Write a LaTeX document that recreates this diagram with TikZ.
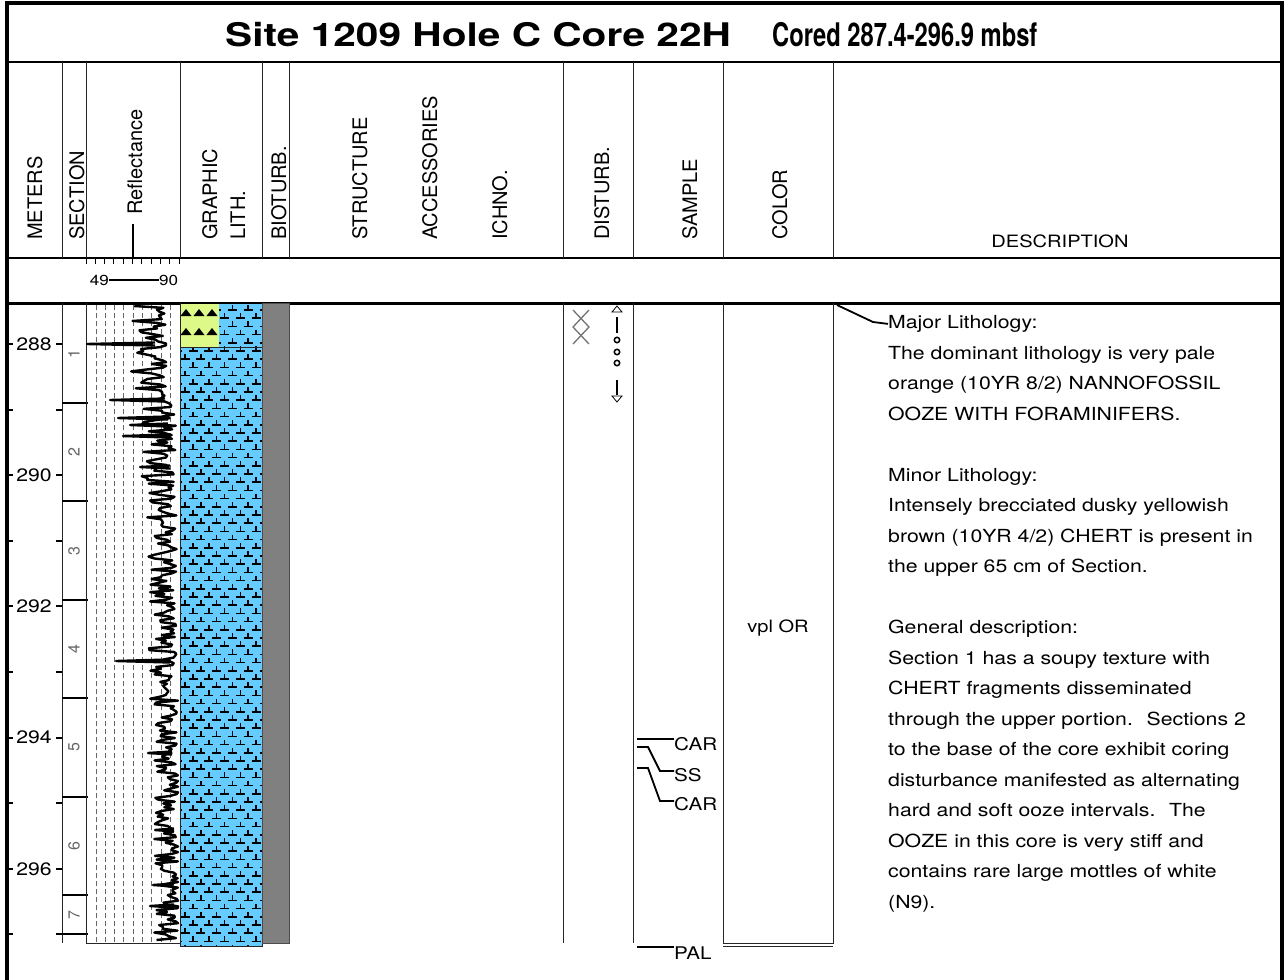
\documentclass[tikz,border=0pt]{standalone}
\usepackage{fontspec}
\setmainfont{TeX Gyre Heros}
\newfontfamily\widefont[FakeStretch=1.18]{TeX Gyre Heros}
\newfontfamily\titlefont[FakeStretch=1.25]{TeX Gyre Heros}
\newfontfamily\narrowfont[FakeStretch=0.73]{TeX Gyre Heros}
\definecolor{oozeblue}{RGB}{102,204,255}
\definecolor{chertgreen}{RGB}{221,250,136}
\definecolor{bioturbgray}{RGB}{128,128,128}
\tikzset{
  boxframe/.style={line width=4pt},
  colline/.style={line width=1pt, black!85},
  hdlabel/.style={rotate=90, anchor=base west, inner sep=0pt, font=\fontsize{20}{20}\selectfont},
  secnum/.style={rotate=90, inner sep=0pt, text=black!60, font=\fontsize{16}{16}\selectfont},
  depthlbl/.style={anchor=east, inner sep=0pt, font=\widefont\fontsize{18}{18}\selectfont},
  tickmark/.style={line width=2pt},
  refl/.style={line width=2.4pt, line join=round},
  oozemark/.style={line width=1.7pt},
  smp/.style={anchor=north west, inner sep=0pt, font=\widefont\fontsize{17.5}{17.5}\selectfont},
  leader/.style={line width=1.8pt},
  desc/.style={anchor=base west, inner sep=0pt, font=\widefont\fontsize{18}{18}\selectfont},
}
\begin{document}
\begin{tikzpicture}[x=1pt, y=-1pt,
  declare function={rr(\t)=163+10*(\t>400)+3*(\t>700); sp(\t)=24+6*(\t<500)+4*(\t<700);}]
   \useasboundingbox (0,0) rectangle (1286,980);
   \pgfmathsetseed{1209}
   % frame and header rows
   \draw[boxframe] (7,1000) -- (7,3) -- (1282,3) -- (1282,1000);
   \draw[line width=1.2pt] (7,62) -- (1282,62);
   \draw[line width=2.5pt] (7,258) -- (1282,258);
   \draw[line width=3pt] (7,303) -- (1282,303);
   \foreach \x in {62,86,180,262,289,563,633,723,833}
     \draw[colline] (\x,62) -- (\x,258);
   \node[anchor=base west, inner sep=0pt, font=\titlefont\fontsize{32.5}{32.5}\selectfont\bfseries] (title) at (225,46) {Site 1209 Hole C Core 22H};
   \node[anchor=base west, inner sep=0pt, font=\narrowfont\fontsize{32.5}{32.5}\selectfont\bfseries] (cored) at (772,46) {Cored 287.4-296.9 mbsf};
   \node[hdlabel] (hmeters) at (42,240) {METERS};
   \node[hdlabel] (hsection) at (84,240) {SECTION};
   \node[hdlabel] (hrefl) at (142,215) {Reflectance};
   \node[hdlabel] (hgraphic) at (217,240) {GRAPHIC};
   \node[hdlabel] (hlith) at (245,240) {LITH.};
   \node[hdlabel] (hbioturb) at (286,240) {BIOTURB.};
   \node[hdlabel] (hstruct) at (367,240) {STRUCTURE};
   \node[hdlabel] (hacc) at (437,240) {ACCESSORIES};
   \node[hdlabel] (hichno) at (507,240) {ICHNO.};
   \node[hdlabel] (hdisturb) at (609,240) {DISTURB.};
   \node[hdlabel] (hsample) at (697,240) {SAMPLE};
   \node[hdlabel] (hcolor) at (787,240) {COLOR};
   \node[anchor=base, inner sep=0pt, font=\widefont\fontsize{17}{17}\selectfont] (hdesc) at (1060,247) {DESCRIPTION};
   \draw[line width=2pt] (133,224) -- (133,258);
   % reflectance scale
   \foreach \i in {0,...,10}
     \draw[line width=1pt] ({86+9.3*\i},258) -- ({86+9.3*\i},264);
   \node[anchor=base east, inner sep=0pt, font=\widefont\fontsize{14.5}{14.5}\selectfont] (r49) at (109,285) {49};
   \node[anchor=base west, inner sep=0pt, font=\widefont\fontsize{14.5}{14.5}\selectfont] (r90) at (159,285) {90};
   \draw[line width=1.5pt] (r49.east) -- (r90.west);
   % depth axis
   \foreach \m in {288,...,297} {
     \pgfmathsetmacro\yy{344+65.6*(\m-288)}
     \draw[tickmark] (7,\yy) -- (13,\yy);
     \draw[tickmark] (56,\yy) -- (62,\yy);
   }
   \foreach \m in {288,290,...,296} {
     \pgfmathsetmacro\yy{344+65.6*(\m-288)}
     \node[depthlbl] (m\m) at (52,\yy) {\m};
   }
   % sections
   \draw[colline] (62,303) -- (62,943);
   \foreach \st/\sb/\n in {304.6/403/1, 403/501.4/2, 501.4/599.8/3, 599.8/698.2/4, 698.2/796.6/5, 796.6/895/6, 895/934.4/7} {
     \draw[tickmark] (62,\sb) -- (88,\sb);
     \node[secnum] (sec\n) at (74,{(\st+\sb)/2}) {\n};
   }
   \draw[tickmark] (56,934.4) -- (62,934.4);
   % reflectance column
   \foreach \x in {96,105,114,123,133,142,151,161,170}
     \draw[black!60, dash pattern=on 5pt off 3pt, line width=1pt] (\x,305) -- (\x,943);
   \draw[colline] (86,303) -- (86,943) -- (180,943);
   \draw[refl] plot[domain=306:940, samples=340] ({min(178, rr(\x)+4*rnd-sp(\x)*rnd^1.7)}, \x);
   \foreach \sy/\sx/\sb in {344/87/155, 400/110/165, 418/118/168, 425/130/168, 436/123/168, 467/140/170, 661/116/170, 753/148/172, 830/155/174, 885/153/174, 906/150/174}
     \draw[refl] (\sb,\sy-1.5) -- (\sx,\sy) -- (\sb,\sy+1.5);
   % graphic lithology
   \fill[chertgreen] (180,304) rectangle (219,347);
   \begin{scope}
     \clip (180,304) rectangle (219,347);
     \foreach \ty in {316,335}
       \foreach \tx in {186,199,212}
         \fill (\tx-5.5,\ty) -- (\tx+5.5,\ty) -- (\tx,\ty-7) -- cycle;
   \end{scope}
   \begin{scope}
     \clip (219,304) -- (262,304) -- (262,946) -- (180,946) -- (180,347) -- (219,347) -- cycle;
     \fill[oozeblue] (180,303) rectangle (262,946);
     \foreach \r in {0,...,78} {
       \pgfmathsetmacro\yy{310+8.2*\r}
       \pgfmathsetmacro\xo{mod(\r,2)*8}
       \foreach \c in {-1,...,5}
         \draw[oozemark] ({185+\xo+15.8*\c-4.5},\yy) -- ++(9,0) ++(-4.5,0) -- ++(0,-5);
     }
   \end{scope}
   \draw[colline] (180,303) -- (180,946) -- (262,946) -- (262,303);
   \draw[colline] (180,347) -- (262,347);
   \filldraw[fill=bioturbgray, draw=black!70, line width=1pt] (262,303) rectangle (289,943);
   % disturbance
   \draw[colline] (563,303) -- (563,943);
   \draw[black!55, line width=1.3pt] (573,310) -- (589,327) -- (573,344);
   \draw[black!55, line width=1.3pt] (589,310) -- (573,327) -- (589,344);
   \draw[line width=0.8pt] (612,312) -- (617,306) -- (622,312) -- cycle;
   \draw[line width=2pt] (617,317) -- (617,333);
   \foreach \cy in {340,352,363}
     \draw[line width=1.5pt] (617,\cy) circle (2.7);
   \draw[line width=2pt] (617,380) -- (617,395);
   \draw[line width=0.8pt] (612,396) -- (617,402) -- (622,396) -- cycle;
   % samples
   \draw[colline] (633,303) -- (633,943);
   \node[smp] (car1) at (674,737) {CAR};
   \node[smp] (ss) at (674,768) {SS};
   \node[smp] (car2) at (674,797) {CAR};
   \node[smp] (pal) at (674,947) {PAL};
   \draw[leader] (637,739) -- ([yshift=-2pt]car1.north west);
   \draw[leader] (637,747) -- (648,747) -- (660,771) -- ([yshift=-3pt]ss.north west);
   \draw[leader] (637,768) -- (648,768) -- (660,801) -- ([yshift=-4pt]car2.north west);
   \draw[leader] (637,947) -- (pal.north west);
   % color
   \draw[colline] (723,303) -- (723,943) -- (833,943) -- (833,303);
   \draw[colline] (723,946) -- (833,946);
   \node[inner sep=0pt, font=\widefont\fontsize{17}{17}\selectfont] (colorlbl) at (778,628) {vpl OR};
   % description
   \foreach \t [count=\i] in {Major Lithology:, The dominant lithology is very pale, {orange (10YR 8/2) NANNOFOSSIL}, OOZE WITH FORAMINIFERS., {}, Minor Lithology:, Intensely brecciated dusky yellowish, {brown (10YR 4/2) CHERT is present in}, the upper 65 cm of Section., {}, General description:, Section 1 has a soupy texture with, CHERT fragments disseminated, {through the upper portion.~ Sections 2}, to the base of the core exhibit coring, disturbance manifested as alternating, {hard and soft ooze intervals.~ The}, OOZE in this core is very stiff and, contains rare large mottles of white, {(N9).}}
     \node[desc] (d\i) at (888,{328.5+30.5*(\i-1)}) {\t};
   \coordinate (desctop) at (837,305);
   \draw[leader] (desctop) -- (873,322) -- (d1.west);
\end{tikzpicture}
\end{document}
